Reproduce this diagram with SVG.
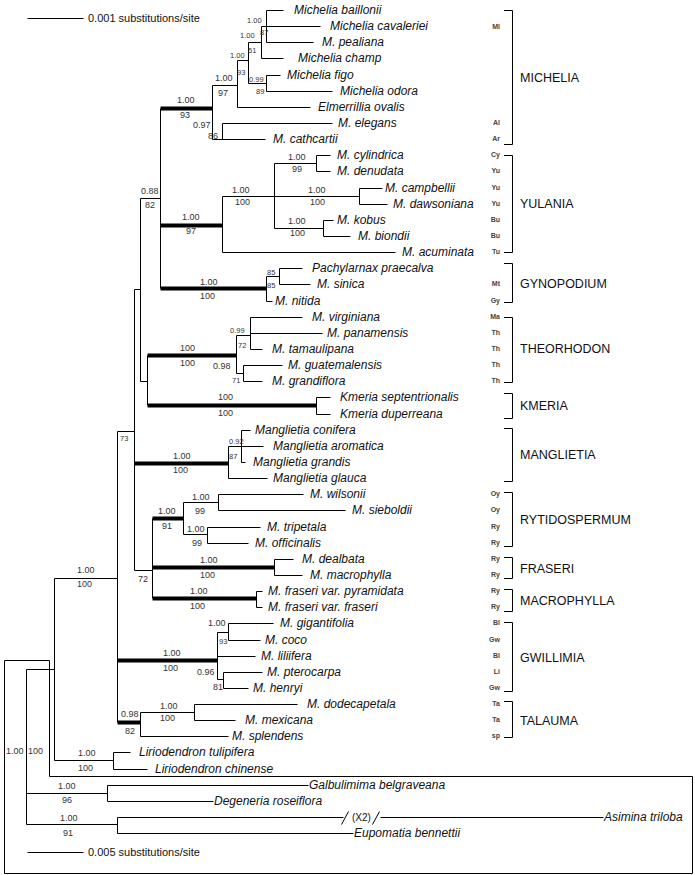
<svg xmlns="http://www.w3.org/2000/svg" width="695" height="875" viewBox="0 0 695 875">
<style>
text{font-family:"Liberation Sans",Arial,sans-serif;fill:#111}
.tx{font-size:12px;font-style:italic}
.sp{font-size:9px;fill:#333}
.ss{font-size:7.5px;fill:#333}
.cd{font-size:7px;font-weight:bold;fill:#444;text-anchor:end}
.gl{font-size:12.5px}
.sc{font-size:11px}
.ln{fill:none;stroke:#000;stroke-width:1}
.th{fill:none;stroke:#000;stroke-width:4}
.br{fill:none;stroke:#000;stroke-width:1}
</style>
<rect width="695" height="875" fill="#fff"/>
<g id="connectors" transform="translate(0.5,0.5)">
<path class="ln" d="M266,10V42M266,10H283M266,26H320M266,42H313M261,26V58M261,26H266M261,58H283M248,42V83M248,42H261M248,83H266M266,75V91M266,75H280M266,91H332M237,60V107M237,60H248M237,107H310M212,85V139M212,85H237M212,139H265M222,123V139M222,123H332"/>
<path class="ln" d="M222,196V252M222,196H359M222,252H395M274,163V228M274,163H316M274,228H323M316,155V171M316,155H330M316,171H330M359,188V204M359,188H382M359,204H387M323,220V236M323,220H333M323,236H350M160,108V288"/>
<path class="ln" d="M266,276V301M266,276H279M266,301H272M279,268V284M279,268H302M279,284H310M140,198V381M140,198H160M140,381H147M147,355V405M236,335V373M236,335H250M236,373H243M250,317V349M250,317H302M250,333H322M250,349H262M243,365V381M243,365H282M243,381H262M316,397V414M316,397H330M316,414H330"/>
<path class="ln" d="M134,289V570M134,289H140M134,570H152M228,446V478M228,446H241M228,478H267M241,430V462M241,430H250M241,446H263M241,462H245M152,518V598M183,502V534M183,502H218M183,534H207M218,494V510M218,494H303M218,510H345M207,527V543M207,527H260M207,543H248M274,559V575M274,559H293M274,575H302M256,591V607M256,591H262M256,607H262"/>
<path class="ln" d="M117,431V722M117,431H134M217,632V679M217,632H228M217,656H255M217,679H223M228,623V640M228,623H273M228,640H260M223,672V688M223,672H262M223,688H248M140,712V736M140,712H194M140,736H228M194,704V720M194,704H297M194,720H235"/>
<path class="ln" d="M54,578V760M54,578H117M54,760H113M113,752V769M113,752H130M113,769H147M26,669V824M26,669H54M26,793H107M26,824H117M107,785V801M107,785H308M107,801H213M117,817V833M117,817H343M380,817H603M117,833H353"/>
<path class="ln" d="M341,824L348,811M372,824L379,811"/>
<path class="th" d="M160,108H212M160,225H222M160,288H266M147,355H236M147,405H316M134,463H228M152,518H183M152,567H274M152,598H256M117,660H217M117,722H140"/>
<path class="ln" d="M4,660H49V776H692V873H4Z"/>
<path class="ln" d="M27,18H83M27,852H83"/>
</g>
<g id="scales">
<text class="sc" x="88" y="22">0.001 substitutions/site</text>
<text class="sc" x="88" y="856">0.005 substitutions/site</text>
<text x="352" y="821" style="font-size:10px">(X2)</text>
</g>
<g id="taxa">
<g id="t-baillonii"><text class="tx" x="294" y="14">Michelia baillonii</text></g>
<g id="t-cavaleriei"><text class="tx" x="330" y="30">Michelia cavaleriei</text></g>
<g id="t-pealiana"><text class="tx" x="322" y="46">M. pealiana</text></g>
<g id="t-champ"><text class="tx" x="298" y="62">Michelia champ</text></g>
<g id="t-figo"><text class="tx" x="287" y="79">Michelia figo</text></g>
<g id="t-odora"><text class="tx" x="340" y="95">Michelia odora</text></g>
<g id="t-ovalis"><text class="tx" x="318" y="111">Elmerrillia ovalis</text></g>
<g id="t-elegans"><text class="tx" x="338" y="127">M. elegans</text></g>
<g id="t-cathcartii"><text class="tx" x="273" y="143">M. cathcartii</text></g>
<g id="t-cylindrica"><text class="tx" x="337" y="159">M. cylindrica</text></g>
<g id="t-denudata"><text class="tx" x="337" y="175">M. denudata</text></g>
<g id="t-campbellii"><text class="tx" x="385" y="192">M. campbellii</text></g>
<g id="t-dawsoniana"><text class="tx" x="393" y="208">M. dawsoniana</text></g>
<g id="t-kobus"><text class="tx" x="337" y="224">M. kobus</text></g>
<g id="t-biondii"><text class="tx" x="358" y="240">M. biondii</text></g>
<g id="t-acuminata"><text class="tx" x="402" y="256">M. acuminata</text></g>
<g id="t-pachylarnax"><text class="tx" x="312" y="272">Pachylarnax praecalva</text></g>
<g id="t-sinica"><text class="tx" x="317" y="288">M. sinica</text></g>
<g id="t-nitida"><text class="tx" x="275" y="305">M. nitida</text></g>
<g id="t-virginiana"><text class="tx" x="312" y="321">M. virginiana</text></g>
<g id="t-panamensis"><text class="tx" x="327" y="337">M. panamensis</text></g>
<g id="t-tamaulipana"><text class="tx" x="272" y="353">M. tamaulipana</text></g>
<g id="t-guatemalensis"><text class="tx" x="288" y="369">M. guatemalensis</text></g>
<g id="t-grandiflora"><text class="tx" x="272" y="385">M. grandiflora</text></g>
<g id="t-kmsept"><text class="tx" x="340" y="401">Kmeria septentrionalis</text></g>
<g id="t-kmdup"><text class="tx" x="340" y="418">Kmeria duperreana</text></g>
<g id="t-conifera"><text class="tx" x="255" y="434">Manglietia conifera</text></g>
<g id="t-aromatica"><text class="tx" x="273" y="450">Manglietia aromatica</text></g>
<g id="t-grandis"><text class="tx" x="253" y="466">Manglietia grandis</text></g>
<g id="t-glauca"><text class="tx" x="273" y="482">Manglietia glauca</text></g>
<g id="t-wilsonii"><text class="tx" x="310" y="498">M. wilsonii</text></g>
<g id="t-sieboldii"><text class="tx" x="352" y="514">M. sieboldii</text></g>
<g id="t-tripetala"><text class="tx" x="267" y="531">M. tripetala</text></g>
<g id="t-officinalis"><text class="tx" x="255" y="547">M. officinalis</text></g>
<g id="t-dealbata"><text class="tx" x="302" y="563">M. dealbata</text></g>
<g id="t-macrophylla"><text class="tx" x="310" y="579">M. macrophylla</text></g>
<g id="t-pyramidata"><text class="tx" x="268" y="595">M. fraseri var. pyramidata</text></g>
<g id="t-fraseri"><text class="tx" x="268" y="611">M. fraseri var. fraseri</text></g>
<g id="t-gigantifolia"><text class="tx" x="280" y="627">M. gigantifolia</text></g>
<g id="t-coco"><text class="tx" x="265" y="644">M. coco</text></g>
<g id="t-liliifera"><text class="tx" x="261" y="660">M. liliifera</text></g>
<g id="t-pterocarpa"><text class="tx" x="267" y="676">M. pterocarpa</text></g>
<g id="t-henryi"><text class="tx" x="253" y="692">M. henryi</text></g>
<g id="t-dodecapetala"><text class="tx" x="307" y="708">M. dodecapetala</text></g>
<g id="t-mexicana"><text class="tx" x="245" y="724">M. mexicana</text></g>
<g id="t-splendens"><text class="tx" x="232" y="740">M. splendens</text></g>
<g id="t-tulipifera"><text class="tx" x="139" y="756">Liriodendron tulipifera</text></g>
<g id="t-chinense"><text class="tx" x="155" y="773">Liriodendron chinense</text></g>
<g id="t-galbulimima"><text class="tx" x="309" y="789">Galbulimima belgraveana</text></g>
<g id="t-degeneria"><text class="tx" x="214" y="805">Degeneria roseiflora</text></g>
<g id="t-asimina"><text class="tx" x="604" y="821">Asimina triloba</text></g>
<g id="t-eupomatia"><text class="tx" x="354" y="837">Eupomatia bennettii</text></g>
</g>
<g id="supports">
<text class="ss" x="247" y="23">1.00</text><text class="ss" x="260" y="35">87</text>
<text class="ss" x="240" y="38">1.00</text><text class="ss" x="248" y="53">51</text>
<text class="ss" x="230" y="58">1.00</text><text class="ss" x="237" y="75">93</text>
<text class="ss" x="249" y="82">0.99</text><text class="ss" x="256" y="94">89</text>
<text class="sp" x="215" y="81">1.00</text><text class="sp" x="218" y="96">97</text>
<text class="sp" x="177" y="103">1.00</text><text class="sp" x="180" y="118">93</text>
<text class="sp" x="193" y="128">0.97</text><text class="sp" x="208" y="139">86</text>
<text class="sp" x="182" y="220">1.00</text><text class="sp" x="186" y="234">97</text>
<text class="sp" x="232" y="193">1.00</text><text class="sp" x="235" y="205">100</text>
<text class="sp" x="308" y="193">1.00</text><text class="sp" x="310" y="205">100</text>
<text class="sp" x="288" y="160">1.00</text><text class="sp" x="292" y="172">99</text>
<text class="sp" x="288" y="224">1.00</text><text class="sp" x="290" y="236">100</text>
<text class="sp" x="200" y="285">1.00</text><text class="sp" x="200" y="299">100</text>
<text class="ss" x="267" y="275">85</text><text class="ss" x="267" y="288">85</text>
<text class="sp" x="141" y="194">0.88</text><text class="sp" x="145" y="208">82</text>
<text class="sp" x="180" y="351">100</text><text class="sp" x="180" y="366">100</text>
<text class="ss" x="230" y="333">0.99</text><text class="ss" x="238" y="348">72</text>
<text class="sp" x="213" y="369">0.98</text><text class="ss" x="232" y="383">71</text>
<text class="sp" x="218" y="400">100</text><text class="sp" x="218" y="416">100</text>
<text class="sp" x="173" y="459">1.00</text><text class="sp" x="173" y="473">100</text>
<text class="ss" x="229" y="444">0.92</text><text class="ss" x="229" y="459">87</text>
<text class="ss" x="120" y="441">73</text>
<text class="sp" x="158" y="514">1.00</text><text class="sp" x="162" y="529">91</text>
<text class="sp" x="192" y="500">1.00</text><text class="sp" x="195" y="514">99</text>
<text class="sp" x="187" y="532">1.00</text><text class="sp" x="192" y="546">99</text>
<text class="sp" x="200" y="563">1.00</text><text class="sp" x="200" y="578">100</text>
<text class="sp" x="190" y="594">1.00</text><text class="sp" x="190" y="609">100</text>
<text class="sp" x="138" y="582">72</text>
<text class="sp" x="163" y="656">1.00</text><text class="sp" x="163" y="671">100</text>
<text class="sp" x="208" y="626">1.00</text><text class="ss" x="219" y="644">93</text>
<text class="sp" x="197" y="675">0.96</text><text class="sp" x="213" y="690">81</text>
<text class="sp" x="121" y="717">0.98</text><text class="sp" x="125" y="734">82</text>
<text class="sp" x="160" y="709">1.00</text><text class="sp" x="160" y="721">100</text>
<text class="sp" x="77" y="573">1.00</text><text class="sp" x="77" y="587">100</text>
<text class="sp" x="78" y="756">1.00</text><text class="sp" x="78" y="771">100</text>
<text class="sp" x="6" y="754">1.00</text><text class="sp" x="28" y="754">100</text>
<text class="sp" x="58" y="789">1.00</text><text class="sp" x="62" y="803">96</text>
<text class="sp" x="60" y="821">1.00</text><text class="sp" x="63" y="836">91</text>
</g>
<g id="codes">
<text class="cd" x="500" y="29">Ml</text><text class="cd" x="500" y="125">Al</text><text class="cd" x="500" y="141">Ar</text>
<text class="cd" x="500" y="157">Cy</text><text class="cd" x="500" y="173">Yu</text><text class="cd" x="500" y="190">Yu</text><text class="cd" x="500" y="206">Yu</text><text class="cd" x="500" y="222">Bu</text><text class="cd" x="500" y="238">Bu</text><text class="cd" x="500" y="254">Tu</text>
<text class="cd" x="500" y="286">Mt</text><text class="cd" x="500" y="303">Gy</text>
<text class="cd" x="500" y="319">Ma</text><text class="cd" x="500" y="335">Th</text><text class="cd" x="500" y="351">Th</text><text class="cd" x="500" y="367">Th</text><text class="cd" x="500" y="383">Th</text>
<text class="cd" x="500" y="496">Oy</text><text class="cd" x="500" y="512">Oy</text><text class="cd" x="500" y="529">Ry</text><text class="cd" x="500" y="545">Ry</text>
<text class="cd" x="500" y="561">Ry</text><text class="cd" x="500" y="577">Ry</text><text class="cd" x="500" y="593">Ry</text><text class="cd" x="500" y="609">Ry</text>
<text class="cd" x="500" y="625">Bl</text><text class="cd" x="500" y="642">Gw</text><text class="cd" x="500" y="658">Bl</text><text class="cd" x="500" y="674">Li</text><text class="cd" x="500" y="690">Gw</text>
<text class="cd" x="500" y="706">Ta</text><text class="cd" x="500" y="722">Ta</text><text class="cd" x="500" y="738">sp</text>
</g>
<g id="clade-michelia"><path class="br" d="M504,10.5H512.5V144.5H504"/><text class="gl" x="520" y="82">MICHELIA</text></g>
<g id="clade-yulania"><path class="br" d="M504,155.5H512.5V252.5H504"/><text class="gl" x="520" y="208">YULANIA</text></g>
<g id="clade-gynopodium"><path class="br" d="M504,263.5H512.5V302.5H504"/><text class="gl" x="520" y="288">GYNOPODIUM</text></g>
<g id="clade-theorhodon"><path class="br" d="M504,317.5H512.5V382.5H504"/><text class="gl" x="520" y="353">THEORHODON</text></g>
<g id="clade-kmeria"><path class="br" d="M504,393.5H512.5V418.5H504"/><text class="gl" x="520" y="410">KMERIA</text></g>
<g id="clade-manglietia"><path class="br" d="M504,428.5H512.5V481.5H504"/><text class="gl" x="520" y="459">MANGLIETIA</text></g>
<g id="clade-rytidospermum"><path class="br" d="M504,492.5H512.5V546.5H504"/><text class="gl" x="520" y="524">RYTIDOSPERMUM</text></g>
<g id="clade-fraseri"><path class="br" d="M504,557.5H512.5V578.5H504"/><text class="gl" x="520" y="573">FRASERI</text></g>
<g id="clade-macrophylla"><path class="br" d="M504,589.5H512.5V611.5H504"/><text class="gl" x="520" y="605">MACROPHYLLA</text></g>
<g id="clade-gwillimia"><path class="br" d="M504,622.5H512.5V691.5H504"/><text class="gl" x="520" y="662">GWILLIMIA</text></g>
<g id="clade-talauma"><path class="br" d="M504,701.5H512.5V737.5H504"/><text class="gl" x="520" y="725">TALAUMA</text></g>
</svg>
